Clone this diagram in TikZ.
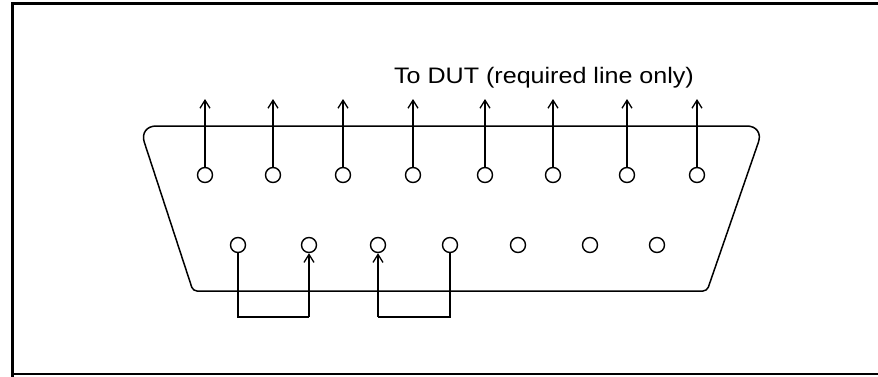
\documentclass[tikz,border=0pt]{standalone}
\usepackage{fontspec}
\setmainfont{Liberation Sans}
\usetikzlibrary{arrows.meta}
\begin{document}
\begin{tikzpicture}[x=1pt,y=-1pt,
  pin/.style={circle,draw,line width=1.4pt,minimum size=15pt,inner sep=0pt},
  wire/.style={line width=1.4pt,-{Straight Barb[length=8pt,width=10pt,line width=1.3pt]}},
  plain/.style={line width=1.4pt},
  shell/.style={line width=1.5pt}]
\useasboundingbox (0,0) rectangle (878,376);
% frame
\draw[line width=3pt] (12,380) -- (12,3.5) -- (890,3.5);
\draw[line width=2pt] (12,373.5) -- (890,373.5);
% shell
\draw[shell] (451,126) [rounded corners=17pt] -- (764,126) [rounded corners=4pt] -- (707,291)
  -- (193,291) [rounded corners=17pt] -- (139,126) -- cycle;
% label
\node[font=\fontsize{22.4}{26}\selectfont,xscale=1.12] (lbl) at (544,78) {To DUT (required line only)};
% top pins
\foreach \x [count=\i] in {205,273,343,413,485,553,627,697} {
  \node[pin] (t\i) at (\x,175) {};
  \coordinate (e\i) at (\x,99);
  \draw[wire] (t\i.north) -- (e\i);
}
% bottom pins
\foreach \x [count=\i] in {238,309,378,450,518,590,657} {
  \node[pin] (b\i) at (\x,245) {};
}
\coordinate (l1) at (238,317);
\coordinate (l2) at (309,317);
\coordinate (l3) at (378,317);
\coordinate (l4) at (450,317);
\draw[plain] (b1.south) -- (l1) -- (l2);
\draw[wire] (l2) -- (b2.south);
\draw[plain] (b4.south) -- (l4) -- (l3);
\draw[wire] (l3) -- (b3.south);
\end{tikzpicture}
\end{document}
